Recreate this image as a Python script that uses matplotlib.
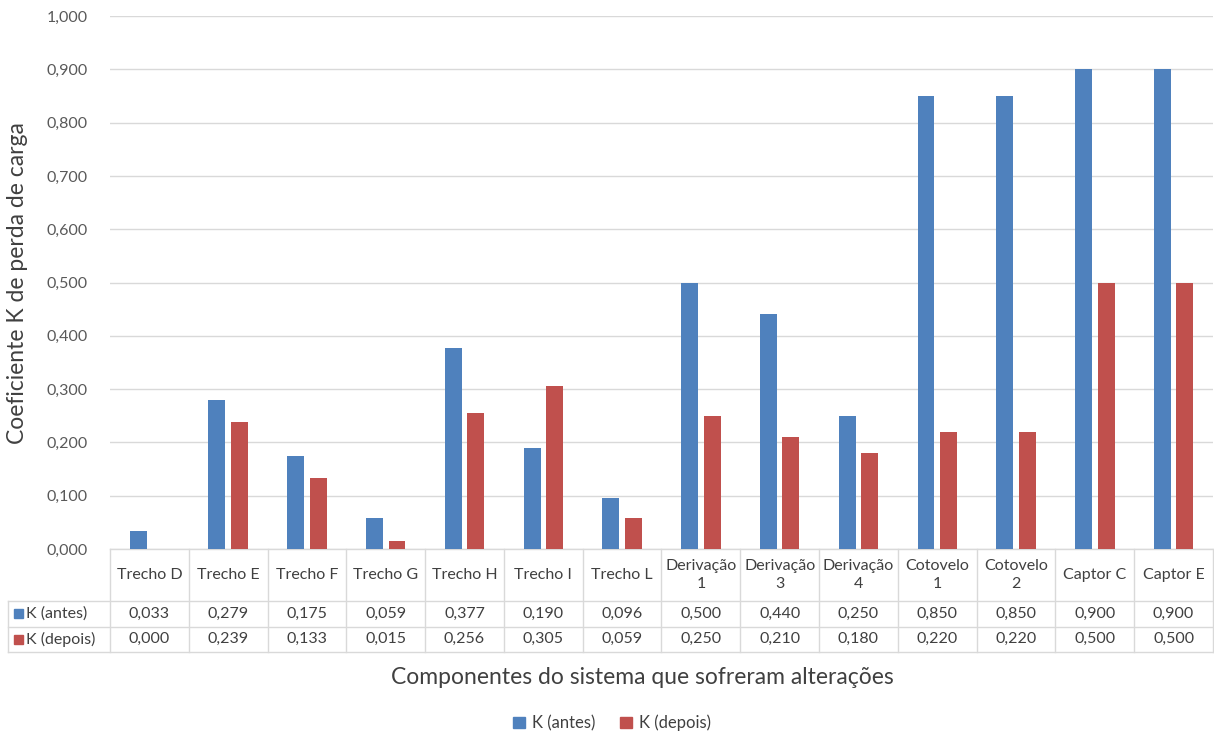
import matplotlib
matplotlib.use("Agg")
import matplotlib.pyplot as plt
import matplotlib.transforms as mtransforms
from matplotlib.patches import Rectangle
import numpy as np

plt.rcParams['font.family'] = ['Lato', 'DejaVu Sans']

componentes = ["Trecho D", "Trecho E", "Trecho F", "Trecho G", "Trecho H", "Trecho I",
               "Trecho L", "Derivação\n1", "Derivação\n3", "Derivação\n4",
               "Cotovelo\n1", "Cotovelo\n2", "Captor C", "Captor E"]
k_antes = [0.033, 0.279, 0.175, 0.059, 0.377, 0.190, 0.096, 0.500, 0.440,
           0.250, 0.850, 0.850, 0.900, 0.900]
k_depois = [0.000, 0.239, 0.133, 0.015, 0.256, 0.305, 0.059, 0.250, 0.210,
            0.180, 0.220, 0.220, 0.500, 0.500]
series_nomes = ["K (antes)", "K (depois)"]
y_ticks = [0.0, 0.1, 0.2, 0.3, 0.4, 0.5, 0.6, 0.7, 0.8, 0.9, 1.0]

azul = "#4F81BD"
vermelho = "#C0504D"
grade = "#D9D9D9"
texto = "#404040"
fs_tab = 11.5

def fmt(v):
    return f"{v:.3f}".replace(".", ",")

fig = plt.figure(figsize=(12.14, 7.35), dpi=100)
ax = fig.add_axes([110 / 1214, 1 - 549 / 735, 1103 / 1214, 533 / 735])

x = np.arange(len(componentes))
w = 0.215
ax.bar(x - 0.143, k_antes, w, color=azul, zorder=3)
ax.bar(x + 0.143, k_depois, w, color=vermelho, zorder=3)

ax.set_xlim(-0.5, len(componentes) - 0.5)
ax.set_ylim(0, 1.0)
ax.set_yticks(y_ticks)
ax.set_yticklabels([fmt(t) for t in y_ticks], color="#595959", fontsize=11.5)
ax.tick_params(axis="y", length=0, pad=16)
ax.set_xticks([])
ax.grid(axis="y", color=grade, lw=1, zorder=0)
for s in ax.spines.values():
    s.set_visible(False)

# data table under the plot
tr = mtransforms.blended_transform_factory(ax.transData, ax.transAxes)
px = 1 / 533
y_head = -52 * px
y_r1 = y_head - 25.5 * px
y_r2 = y_r1 - 25.5 * px
x0 = -0.5
x_lab = -0.5 - 102 / 78.8
x_end = len(componentes) - 0.5
lk = dict(color=grade, lw=1, transform=tr, clip_on=False)

ax.plot([x0, x_end], [0, 0], **lk)
for yy in (y_head, y_r1, y_r2):
    ax.plot([x_lab, x_end], [yy, yy], **lk)
for i in range(len(componentes) + 1):
    ax.plot([i - 0.5, i - 0.5], [0, y_r2], **lk)
ax.plot([x_lab, x_lab], [y_head, y_r2], **lk)

for i, nome in enumerate(componentes):
    ax.text(i, y_head / 2, nome, transform=tr, ha="center", va="center",
            fontsize=fs_tab, color=texto, linespacing=1.3, clip_on=False)
    ax.text(i, (y_head + y_r1) / 2, fmt(k_antes[i]), transform=tr, ha="center",
            va="center", fontsize=fs_tab, color=texto, clip_on=False)
    ax.text(i, (y_r1 + y_r2) / 2, fmt(k_depois[i]), transform=tr, ha="center",
            va="center", fontsize=fs_tab, color=texto, clip_on=False)

for yy0, yy1, cor, nome in ((y_head, y_r1, azul, series_nomes[0]),
                            (y_r1, y_r2, vermelho, series_nomes[1])):
    ym = (yy0 + yy1) / 2
    ax.add_patch(Rectangle((x_lab + 0.08, ym - 4.5 * px), 9 / 78.8, 9 * px,
                           color=cor, transform=tr, clip_on=False))
    ax.text(x_lab + 0.08 + 12 / 78.8, ym, nome, transform=tr, ha="left",
            va="center", fontsize=fs_tab, color=texto, clip_on=False)

fig.text(18 / 1214, 1 - 283 / 735, "Coeficiente K de perda de carga", rotation=90,
         ha="center", va="center", fontsize=16.5, color=texto)
fig.text(642 / 1214, 1 - 677 / 735, "Componentes do sistema que sofreram alterações",
         ha="center", va="center", fontsize=16.5, color=texto)

handles = [Rectangle((0, 0), 1, 1, color=azul), Rectangle((0, 0), 1, 1, color=vermelho)]
fig.legend(handles, series_nomes, loc="center", bbox_to_anchor=(612 / 1214, 1 - 723 / 735),
           ncol=2, frameon=False, fontsize=12, handlelength=0.7, handleheight=0.7,
           handletextpad=0.4, columnspacing=1.5, labelcolor=texto)

fig.savefig("out.png", dpi=100)
